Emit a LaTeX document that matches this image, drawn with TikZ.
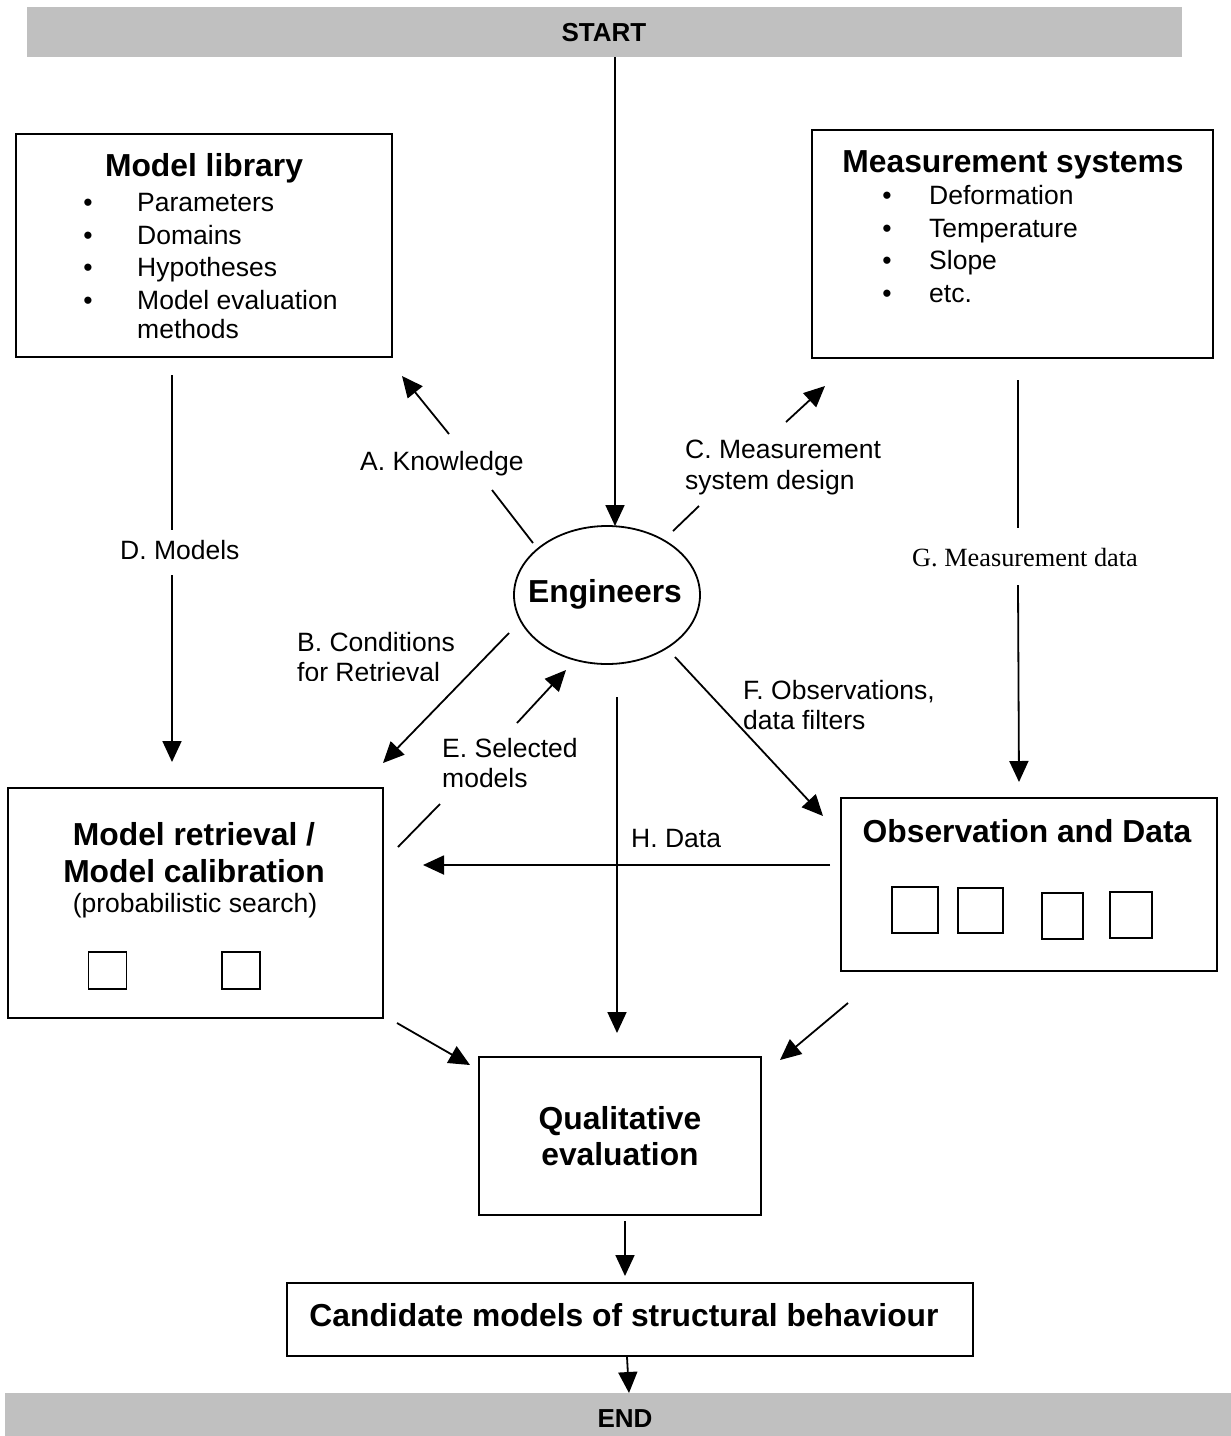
\documentclass[tikz,border=0pt]{standalone}
\usepackage{fontspec}
\setmainfont{Liberation Sans}
\newfontfamily\timesfont{Liberation Serif}
\usetikzlibrary{arrows.meta,shapes.geometric}
\definecolor{barGray}{RGB}{192,192,192}
\tikzset{
  box/.style={draw, line width=1.8pt, inner sep=0pt, outer sep=0pt},
  sq/.style={draw, line width=1.6pt, inner sep=0pt, outer sep=0pt},
  bar/.style={fill=barGray, inner sep=0pt, outer sep=0pt},
  txt/.style={font=\fontsize{26.5}{32}\selectfont, inner sep=0pt},
  lbl/.style={txt, anchor=mid west},
  ttl/.style={font=\fontsize{31.8}{37}\selectfont\bfseries, inner sep=0pt, anchor=mid},
  endtxt/.style={font=\fontsize{26}{30}\selectfont\bfseries, inner sep=0pt, anchor=mid},
  con/.style={line width=1.8pt},
  arr/.style={con, -{Triangle[length=21pt,width=19pt]}},
}
\begin{document}
\begin{tikzpicture}[x=1pt,y=-1pt]
\useasboundingbox (0,0) rectangle (1231,1436);
% bars
\node[bar, minimum width=1155pt, minimum height=50pt] (start) at (604.5,32) {};
\node[endtxt] (starttxt) at (604,39) {START};
\node[bar, minimum width=1226pt, minimum height=43pt] (endbar) at (618,1414.5) {};
\node[endtxt] (endtxt) at (625,1425) {END};
% model library
\node[box, minimum width=376pt, minimum height=223pt] (lib) at (204,245.5) {};
\node[ttl] (libt) at (204,173.5) {Model library};
\foreach \y/\t [count=\i] in {209/Parameters,242/Domains,274/Hypotheses,307/Model evaluation}{
  \node[txt, anchor=mid] (libb\i) at (88,\y) {•};
  \node[lbl] (libi\i) at (137,\y) {\t};
}
\node[lbl] (libi5) at (137,336) {methods};
% measurement systems
\node[box, minimum width=401pt, minimum height=228pt] (meas) at (1012.5,244) {};
\node[ttl] (meast) at (1013,169.5) {Measurement systems};
\foreach \y/\t [count=\i] in {202/Deformation,235/Temperature,267/Slope,300/etc.}{
  \node[txt, anchor=mid] (measb\i) at (887,\y) {•};
  \node[lbl] (measi\i) at (929,\y) {\t};
}
% engineers
\node[ellipse, draw, line width=1.8pt, minimum width=186pt, minimum height=138pt, inner sep=0pt] (eng) at (607,595) {};
\node[ttl] (engt) at (605,599.5) {Engineers};
% model retrieval
\node[box, minimum width=375pt, minimum height=230pt] (ret) at (195.5,903) {};
\node[ttl] (rett1) at (194,842.5) {Model retrieval /};
\node[ttl] (rett2) at (194,879.5) {Model calibration};
\node[txt, anchor=mid] (rett3) at (195,910) {(probabilistic search)};
\node[sq, minimum width=38pt, minimum height=37pt] (rsq1) at (107.5,970.5) {};
\node[sq, minimum width=38pt, minimum height=37pt] (rsq2) at (241,970.5) {};
% observation and data
\node[box, minimum width=376pt, minimum height=173pt] (obs) at (1029,884.5) {};
\node[ttl] (obst) at (1027,839.5) {Observation and Data};
\node[sq, minimum width=46pt, minimum height=46pt] (osq1) at (915,910) {};
\node[sq, minimum width=45pt, minimum height=45pt] (osq2) at (980.5,910.5) {};
\node[sq, minimum width=41pt, minimum height=46pt] (osq3) at (1062.5,916) {};
\node[sq, minimum width=42pt, minimum height=46pt] (osq4) at (1131,915) {};
% qualitative evaluation
\node[box, minimum width=282pt, minimum height=158pt] (qual) at (620,1136) {};
\node[ttl] (qualt1) at (620,1126.5) {Qualitative};
\node[ttl] (qualt2) at (620,1162.5) {evaluation};
% candidate
\node[box, minimum width=686pt, minimum height=73pt] (cand) at (630,1319.5) {};
\node[ttl] (candt) at (624,1323.5) {Candidate models of structural behaviour};
% labels
\node[lbl] (la) at (360,468) {A. Knowledge};
\node[lbl] (lc1) at (685,456) {C. Measurement};
\node[lbl] (lc2) at (685,487) {system design};
\node[lbl] (ld) at (120,557) {D. Models};
\node[font=\fontsize{26.3}{30}\selectfont\timesfont, inner sep=0pt, anchor=mid west] (lg) at (912,564) {G. Measurement data};
\begin{scope}
\clip (280,620) rectangle (460,680);
\node[lbl] (lb1) at (297,649) {B. Conditions};
\node[lbl] (lb2) at (297,679) {for Retrieval};
\end{scope}
\node[lbl] (lf1) at (743,697) {F. Observations,};
\node[lbl] (lf2) at (743,727) {data filters};
\node[lbl] (le1) at (442,755) {E. Selected};
\node[lbl] (le2) at (442,785) {models};
\node[lbl] (lh) at (631,845) {H. Data};
% coordinates for connectors
\coordinate (sA) at (533,543); \coordinate (mA1) at (492,490);
\coordinate (mA2) at (449,434); \coordinate (eA) at (402,376);
\coordinate (sC) at (673,531); \coordinate (mC1) at (699,506);
\coordinate (mC2) at (786,422); \coordinate (eC) at (825,386);
\coordinate (sB) at (509,633); \coordinate (eB) at (383,763);
\coordinate (sE) at (398,847); \coordinate (mE1) at (440,804);
\coordinate (mE2) at (517,723); \coordinate (eE) at (566,670);
\coordinate (sF) at (675,657); \coordinate (eF) at (823,816);
\coordinate (sH) at (617,697); \coordinate (eH) at (617,1033);
\coordinate (sH2) at (830,865); \coordinate (eH2) at (423,865);
\coordinate (sD) at (172,375); \coordinate (mD1) at (172,530);
\coordinate (mD2) at (172,575); \coordinate (eD) at (172,762);
\coordinate (sG) at (1018,380); \coordinate (mG1) at (1018,528);
\coordinate (mG2) at (1018,585); \coordinate (eG) at (1019,782);
\coordinate (sRQ) at (397,1023); \coordinate (eRQ) at (470,1065);
\coordinate (sOQ) at (848,1003); \coordinate (eOQ) at (780,1060);
\coordinate (sQC) at (625,1221); \coordinate (eQC) at (625,1276);
\coordinate (sCE) at (627,1357); \coordinate (eCE) at (629,1393);
\coordinate (sS) at (615,57); \coordinate (eS) at (615,526);
% connectors
\draw[arr] (sS) -- (eS);
\draw[con] (sA) -- (mA1); \draw[arr] (mA2) -- (eA);
\draw[con] (sC) -- (mC1); \draw[arr] (mC2) -- (eC);
\draw[arr] (sB) -- (eB);
\draw[con] (sE) -- (mE1); \draw[arr] (mE2) -- (eE);
\draw[arr] (sF) -- (eF);
\draw[arr] (sH) -- (eH);
\draw[arr] (sH2) -- (eH2);
\draw[con] (sD) -- (mD1); \draw[arr] (mD2) -- (eD);
\draw[con] (sG) -- (mG1); \draw[arr] (mG2) -- (eG);
\draw[arr] (sRQ) -- (eRQ);
\draw[arr] (sOQ) -- (eOQ);
\draw[arr] (sQC) -- (eQC);
\draw[arr] (sCE) -- (eCE);
\end{tikzpicture}
\end{document}
